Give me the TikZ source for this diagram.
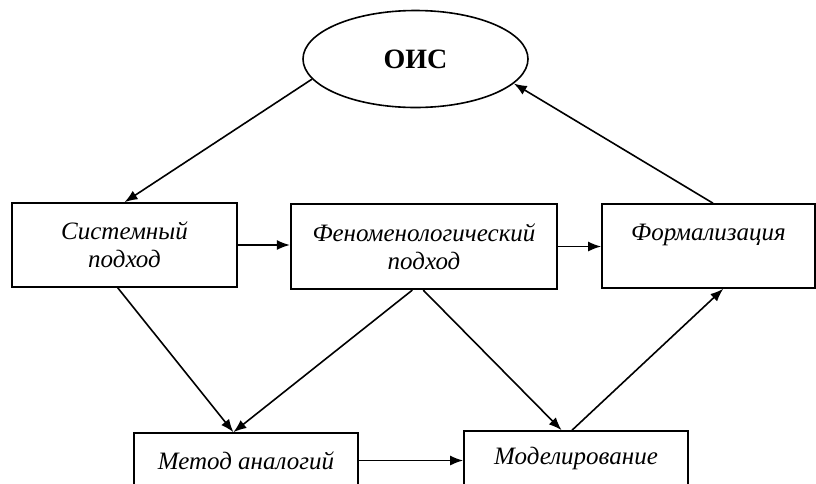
\documentclass[tikz,border=0pt]{standalone}
\usepackage{fontspec}
\setmainfont{Liberation Serif}
\usetikzlibrary{shapes.geometric,arrows.meta}
\begin{document}
\begin{tikzpicture}[x=1pt, y=-1pt, line width=1.6pt, >={Latex[length=13pt,width=10pt]},
  box/.style={draw, rectangle, align=center, font=\fontsize{25}{28}\selectfont\itshape, inner sep=0pt}]
\useasboundingbox (0,0) rectangle (816,483);
\clip (0,0) rectangle (816,483);
\node[draw, ellipse, minimum width=225, minimum height=97, inner sep=0pt, font=\fontsize{28}{30}\selectfont\bfseries] (ois) at (415.5,59){ОИС};
\node[box, minimum width=225, minimum height=84] (sys) at (124.5,245){Системный\\подход};
\node[box, minimum width=266, minimum height=85, line width=2.2pt] (phen) at (424,246.5){Феноменологический\\подход};
\node[box, minimum width=213, minimum height=84] (form) at (708.5,246){Формализация\\\mbox{}};
\node[box, minimum width=224, minimum height=55] (meth) at (246,460.5){Метод аналогий};
\node[box, minimum width=224, minimum height=55] (model) at (576,458.5){Моделирование};
\draw[->](ois.191) -- (sys.north);
\draw[->](form.84) -- (ois.346);
\draw[->](sys.east) -- (sys.east -| phen.west);
\draw[->](phen.east) -- (phen.east -| form.west);
\draw[->](sys.261) -- (meth.114);
\draw[->](phen.255) -- (meth.114);
\draw[->](phen.269) -- (model.117);
\draw[->](model.98) -- (form.289);
\draw[->](meth.east) -- (meth.east -| model.west);
\end{tikzpicture}
\end{document}
